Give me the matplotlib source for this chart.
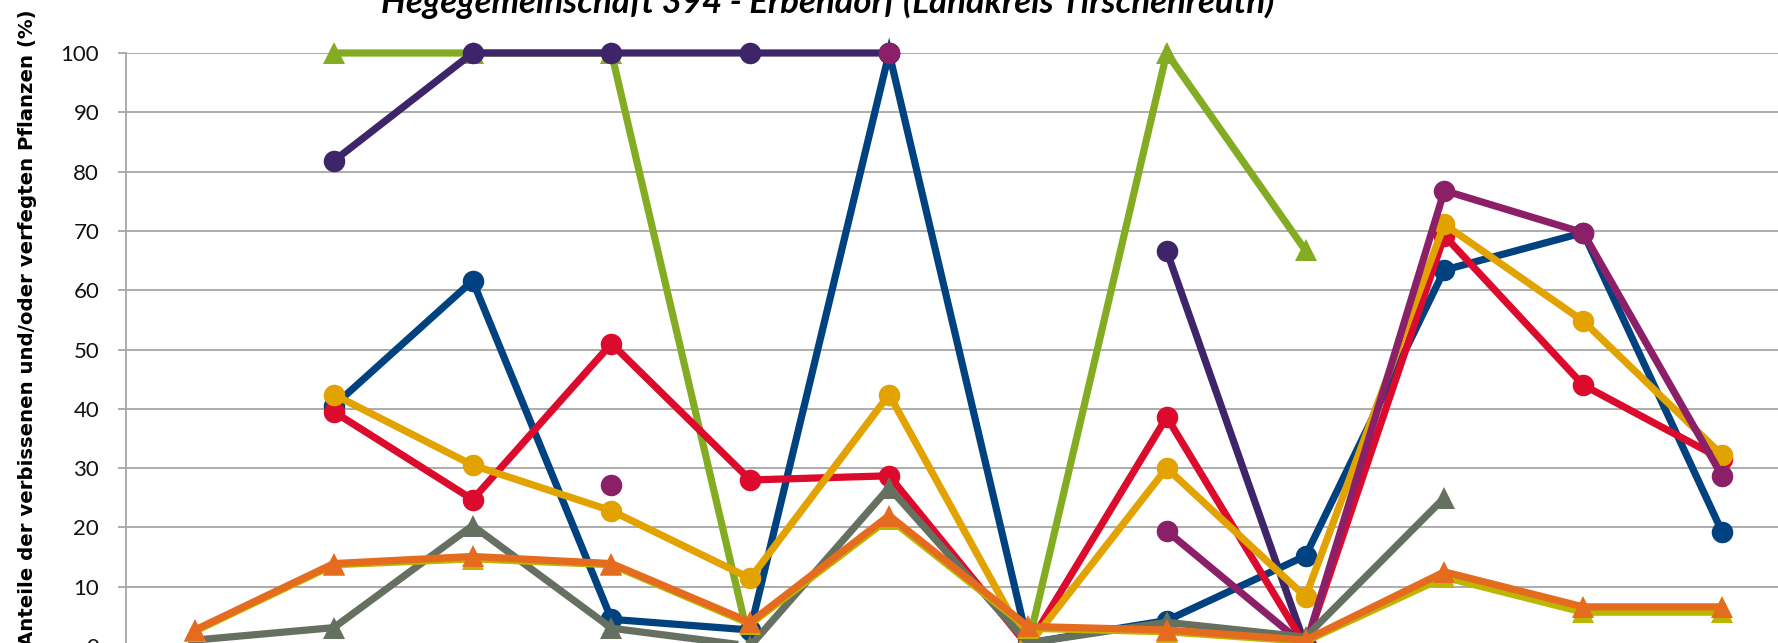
import numpy as np
import matplotlib
matplotlib.use("Agg")
import matplotlib.pyplot as plt

nan = np.nan

# Aufnahmepunkte (Kategorien, Beschriftung im Ausschnitt nicht sichtbar)
categories = list(range(12))

# Anteile in % je Baumart/Reihe
navy = [nan, 40.5, 61.6, 4.5, 2.7, 100, 0.5, 4.3, 15.2, 63.4, 69.7, 19.3]
dark_purple = [nan, 81.8, 100, 100, 100, 100, nan, 66.6, 0, nan, nan, nan]
magenta = [nan, nan, nan, 27.2, nan, 100, nan, 19.4, 0, 76.8, 69.7, 28.7]
red = [nan, 39.5, 24.7, 51.0, 28.0, 28.7, 0, 38.6, 0, 69.2, 44.0, 31.5]
gold = [nan, 42.4, 30.5, 22.8, 11.4, 42.4, 0, 30.0, 8.3, 71.1, 54.8, 32.2]
green = [nan, 100, 100, 100, 0, nan, 0, 100, 66.7, nan, nan, nan]
grey = [1.0, 3.1, 20.3, 3.0, 0, 26.7, 0.5, 4.0, 1.5, 25.0, nan, nan]
olive = [2.5, 13.7, 14.7, 13.7, 3.7, 21.5, 3.0, 2.4, 0.8, 11.6, 5.7, 5.7]
orange = [2.7, 13.9, 15.1, 13.9, 4.0, 22.0, 3.3, 2.7, 1.0, 12.5, 6.6, 6.6]

yticks = list(range(0, 101, 10))

title = "Hegegemeinschaft 394 - Erbendorf (Landkreis Tirschenreuth)"
ylabel = "Anteile der verbissenen und/oder verfegten Pflanzen (%)"

W, H = 1778, 643
fig = plt.figure(figsize=(W / 100, H / 100), dpi=100)

# Achse reicht ueber den Bildrand hinaus (Ausschnitt)
left_px, right_px = 125.6, 1791.4
top_px, zero_px = 53.0, 646.0
ax = fig.add_axes([left_px / W, (H - zero_px) / H,
                   (right_px - left_px) / W, (zero_px - top_px) / H])

# Reihenfolge = Zeichenreihenfolge (spaeter oben)
series = [
    (green, "#84AC22", "^"),
    (dark_purple, "#3E2468", "o"),
    (navy, "#00427F", "o"),
    (red, "#DC0A2D", "o"),
    (gold, "#E2A200", "o"),
    (magenta, "#8B2068", "o"),
    (grey, "#667060", "^"),
    (olive, "#BDB600", "^"),
    (orange, "#E56B1F", "^"),
]

for values, color, marker in series:
    ax.plot(categories, values, color=color, lw=5.2, marker=marker,
            markersize=15.5, markeredgewidth=0, clip_on=False,
            solid_joinstyle="miter")

ax.set_xlim(-0.5, 11.5)
ax.set_ylim(0, 100)
ax.set_yticks(yticks)
ax.set_yticklabels([str(t) for t in yticks], fontsize=16,
                   fontfamily="Lato", color="#111111")
ax.set_xticks([])

ax.yaxis.grid(True, color="#A6A6A6", lw=1.3)
ax.set_axisbelow(True)
ax.tick_params(axis="y", direction="out", length=6, width=1.3,
               color="#A6A6A6", pad=13)

for side in ["top", "right", "bottom"]:
    ax.spines[side].set_visible(False)
ax.spines["left"].set_color("#A6A6A6")
ax.spines["left"].set_linewidth(1.3)

fig.text(828 / W, 1 - 12.7 / H, title, ha="center", va="baseline",
         fontsize=25, fontfamily="Lato", fontweight="bold", fontstyle="italic")
fig.text(27.5 / W, 1 - 328 / H, ylabel, rotation=90, ha="center", va="center",
         fontsize=14.2, fontfamily="DejaVu Sans", fontweight="bold")

fig.savefig("out.png", dpi=100)
